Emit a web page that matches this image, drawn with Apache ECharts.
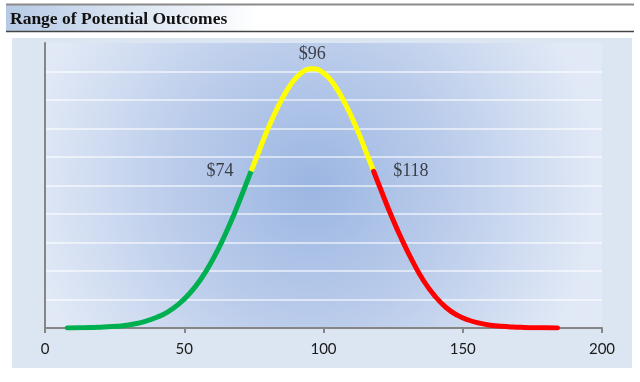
<!DOCTYPE html>
<html>
<head>
<meta charset="utf-8">
<script src="https://cdn.jsdelivr.net/npm/echarts@6/dist/echarts.min.js"></script>
<style>
html,body{margin:0;padding:0;background:#fff;}
#c{width:640px;height:382px;}
</style>
</head>
<body>
<div id="c"></div>
<script>
var titleText = 'Range of Potential Outcomes';
var xTicks = [0, 50, 100, 150, 200];
// outcome values (x) and relative likelihood (y)
var greenX = [8, 12, 16, 20, 24, 28, 32, 36, 40, 44, 48, 52, 56, 60, 64, 68, 72, 74];
var greenY = [0.0, 0.1, 0.15, 0.3, 0.5, 0.8, 1.4, 2.3, 3.7, 5.6, 8.4, 12.2, 17.2, 23.6, 31.3, 40.2, 50.0, 55.0];
var yellowX = [74, 76, 80, 84, 88, 92, 96, 100, 104, 108, 112, 116, 118];
var yellowY = [55.0, 60.0, 69.8, 78.3, 85.1, 89.5, 91.0, 89.5, 85.1, 78.3, 69.8, 60.0, 55.0];
var redX = [118, 120, 124, 128, 132, 136, 140, 144, 148, 152, 156, 160, 164, 168, 172, 176, 180, 184];
var redY = [55.0, 50.0, 40.2, 31.3, 23.4, 16.5, 11.2, 7.2, 4.5, 2.8, 1.7, 1.0, 0.6, 0.35, 0.2, 0.1, 0.05, 0.0];
var markX = [74, 96, 118];
var markY = [55.0, 91.0, 55.0];
var markLabels = ['$74', '$96', '$118'];

function pairs(xs, ys) { return xs.map(function (x, i) { return [x, ys[i]]; }); }

var chart = echarts.init(document.getElementById('c'), null, {renderer: 'canvas'});
var lineBase = {type: 'line', smooth: true, showSymbol: false, symbol: 'none', silent: true, animation: false};
var positions = ['left', 'top', 'right'];
var distances = [17, 5, 19];

chart.setOption({
  animation: false,
  graphic: [
    {type: 'rect', z: -10, shape: {x: 6, y: 5, width: 628, height: 26},
      style: {fill: {type: 'linear', x: 0, y: 0, x2: 1, y2: 0, colorStops: [
        {offset: 0, color: '#b6cae5'}, {offset: 0.4, color: '#ffffff'}, {offset: 1, color: '#ffffff'}]}}},
    {type: 'line', z: 5, shape: {x1: 6, y1: 4.5, x2: 634, y2: 4.5}, style: {stroke: '#8a8a8a', lineWidth: 2}},
    {type: 'line', z: 5, shape: {x1: 6, y1: 31.5, x2: 634, y2: 31.5}, style: {stroke: '#444444', lineWidth: 1.5}},
    {type: 'text', z: 5, left: 10, top: 10, style: {text: titleText, fill: '#111', font: 'bold 17.5px "Liberation Serif"'}},
    {type: 'rect', z: -10, shape: {x: 12, y: 38, width: 620, height: 330}, style: {fill: '#dce6f2'}}
  ],
  grid: {left: 45, right: 38, top: 43, bottom: 54, show: true, borderWidth: 0,
    backgroundColor: {type: 'radial', x: 0.48, y: 0.5, r: 1.0, colorStops: [
      {offset: 0, color: '#9bb6e2'}, {offset: 0.5, color: '#bccdeb'}, {offset: 1, color: '#e1e9f6'}]}},
  xAxis: {type: 'value', min: xTicks[0], max: xTicks[xTicks.length - 1], interval: 50,
    axisLine: {show: true, onZero: false, lineStyle: {color: '#868686', width: 2}},
    axisTick: {show: true, length: 5, lineStyle: {color: '#868686', width: 2}},
    axisLabel: {color: '#1a1a1a', fontFamily: 'Lato', fontSize: 15, margin: 14},
    splitLine: {show: false}},
  yAxis: {type: 'value', min: 0, max: 100, interval: 10,
    axisLine: {show: true, lineStyle: {color: '#868686', width: 2}},
    axisTick: {show: false}, axisLabel: {show: false},
    splitLine: {show: true, showMaxLine: false, lineStyle: {color: 'rgba(255,255,255,0.55)', width: 2}}},
  series: [
    Object.assign({}, lineBase, {data: pairs(greenX, greenY), lineStyle: {color: '#00b050', width: 5, cap: 'round'}, z: 3}),
    Object.assign({}, lineBase, {data: pairs(yellowX, yellowY), lineStyle: {color: '#ffff00', width: 5}, z: 3}),
    Object.assign({}, lineBase, {data: pairs(redX, redY), lineStyle: {color: '#ff0000', width: 5, cap: 'round'}, z: 3}),
    {type: 'scatter', symbolSize: 1, silent: true, itemStyle: {color: 'rgba(0,0,0,0)'}, z: 4,
      data: markX.map(function (x, i) {
        return {value: [x, markY[i]], label: {show: true, formatter: markLabels[i], position: positions[i], distance: distances[i],
          color: '#1a1a1a', fontFamily: 'Liberation Serif', fontSize: 18}};
      })}
  ]
});
</script>
</body>
</html>
